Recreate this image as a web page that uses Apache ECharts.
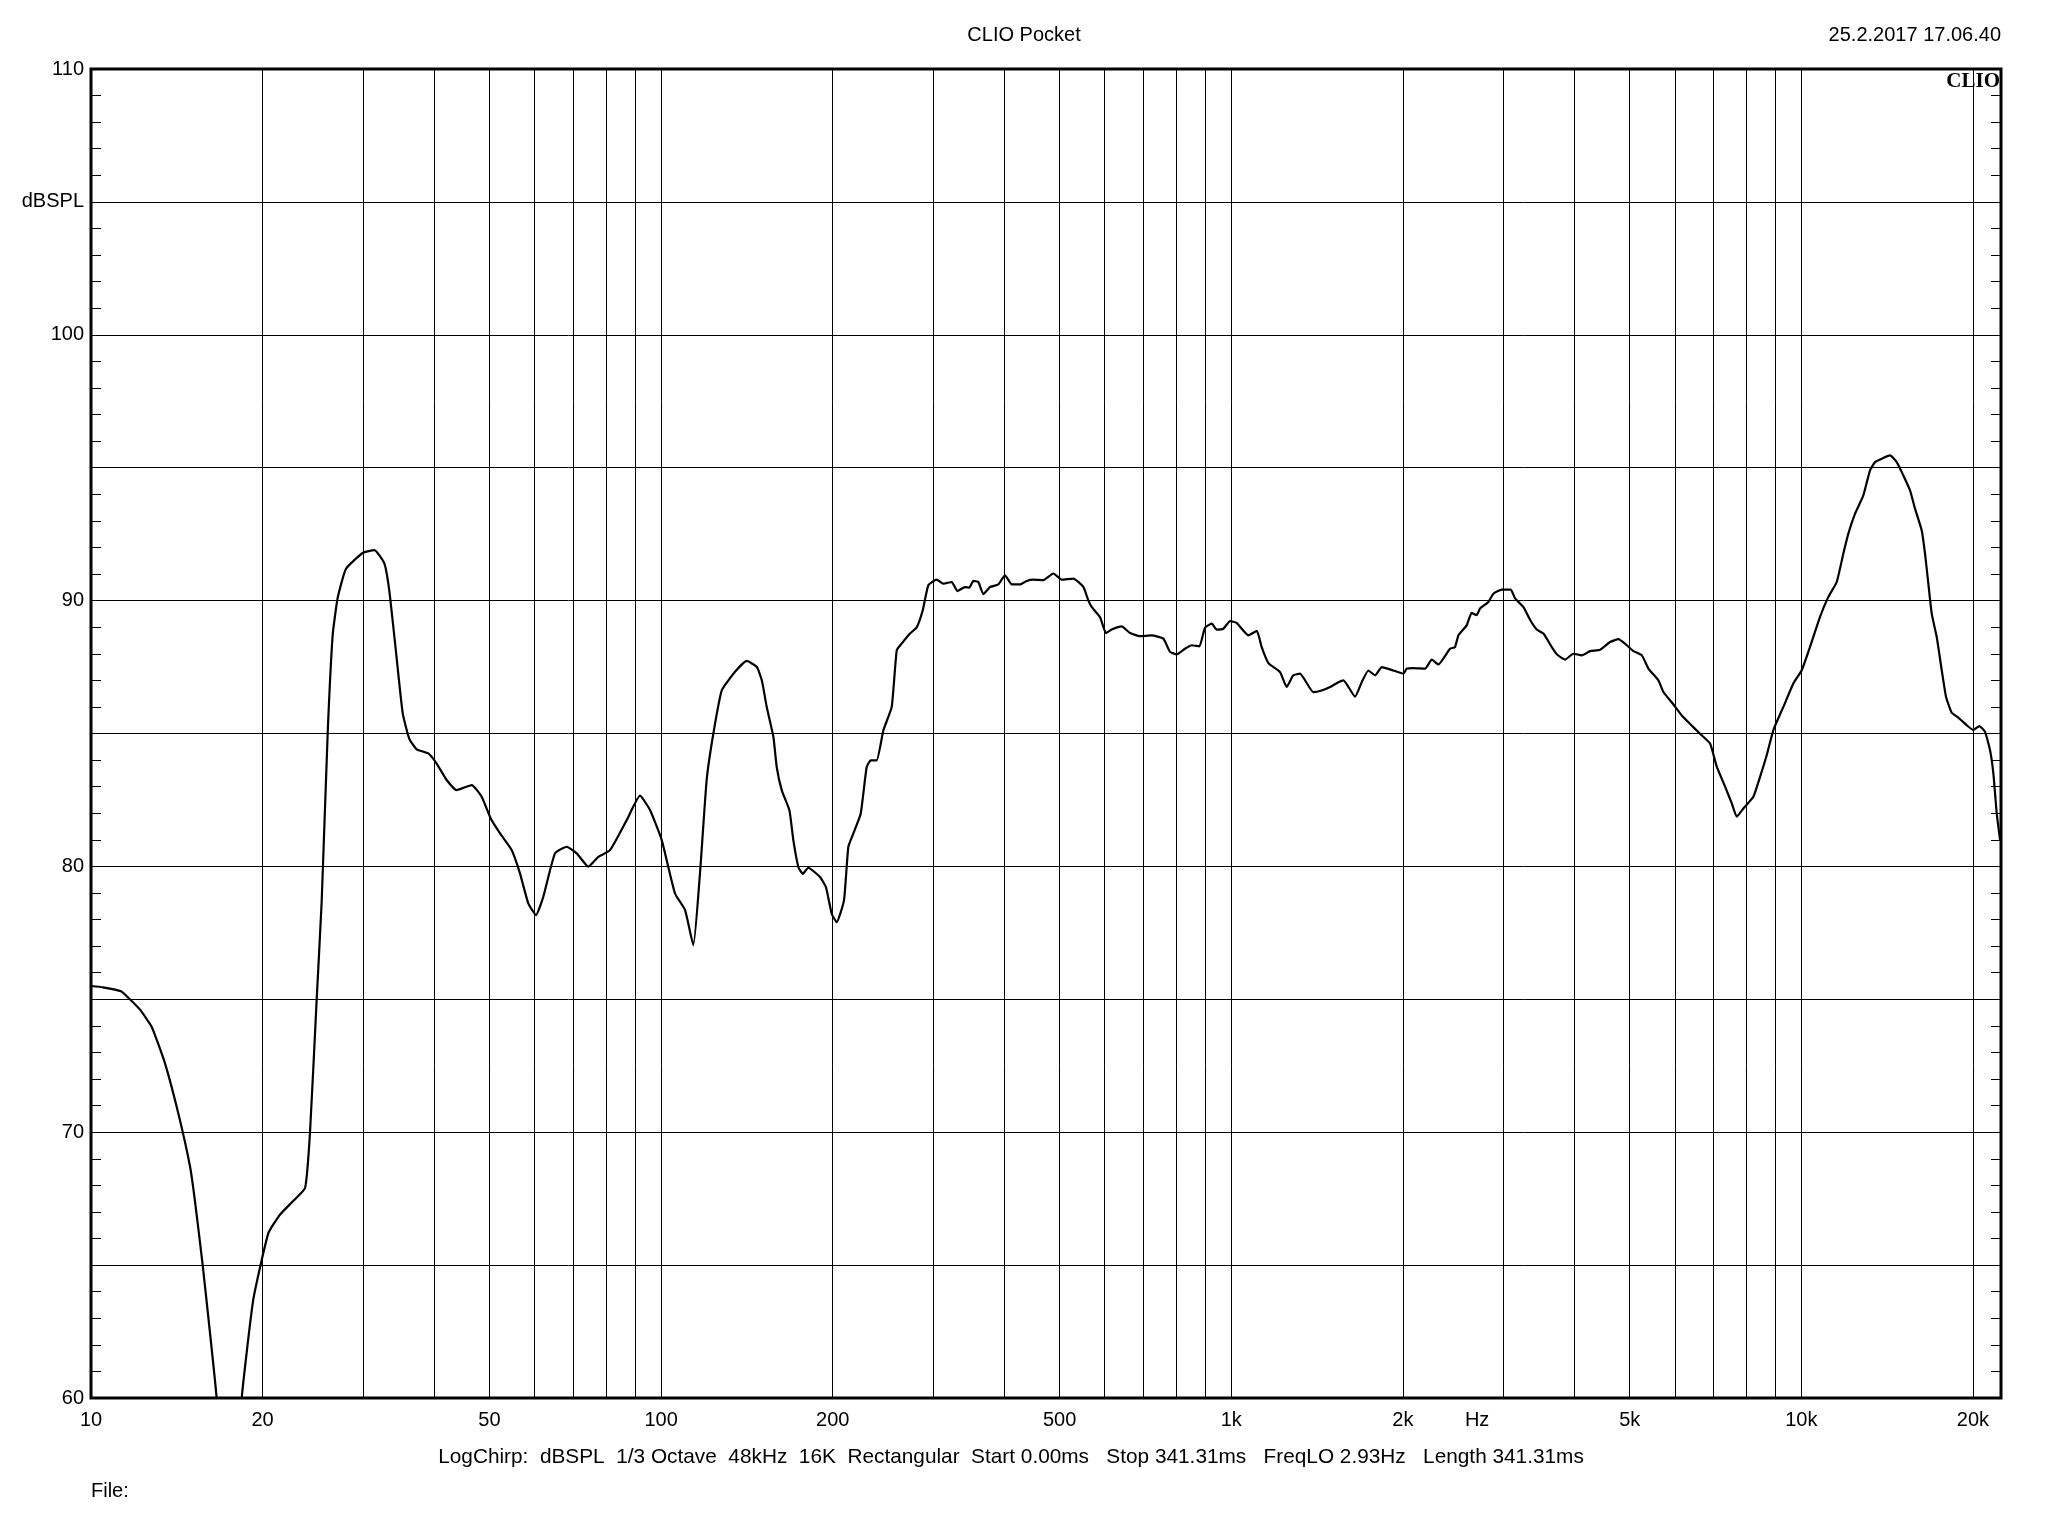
<!DOCTYPE html>
<html>
<head>
<meta charset="utf-8">
<script src="https://cdn.jsdelivr.net/npm/echarts@6/dist/echarts.min.js"></script>
<style>
html,body{margin:0;padding:0;background:#fff;}
#chart{width:2048px;height:1536px;}
</style>
</head>
<body>
<div id="chart"></div>
<script>
// ---- data ----
const freqHz = [
  10, 10.5, 11.29, 11.7, 12.2, 12.78, 13.48, 14.23, 14.92, 15.22, 15.7, 16.06, 16.61, 17.4, 18.38, 19.26,
  20.47, 21.46, 22.6, 23.74, 24.22, 24.88, 25.39, 26.01, 26.54, 27.08, 28.01, 30, 31.41, 32.7, 33.37,
  34.28, 35.22, 36.17, 37.28, 39.06, 40.39, 42.06, 43.79, 46.54, 48.45, 50.25, 52.18, 54.71, 56.55,
  58.48, 60.34, 62.14, 65.14, 68.3, 71.12, 74.53, 77.61, 81.36, 87.03, 91.84, 95.61, 100.25, 105.78,
  110.13, 113.9, 117, 120.2, 123.5, 127.8, 134.8, 141.3, 147.2, 150.2, 153.2, 157.4, 159.5, 162.8,
  167.9, 170.6, 174.1, 177.2, 181.2, 190, 194.6, 199.2, 203.2, 209.3, 213, 217.3, 223.9, 229.4, 233.2,
  238.8, 245.4, 253.8, 259, 264.2, 273.3, 280.8, 287.7, 294.3, 304.4, 312.6, 323.4, 330.8, 341.2,
  347.3, 352.9, 360.1, 367.5, 377.5, 390.4, 401.1, 412.1, 426.2, 437.8, 449.8, 468.3, 487.5, 504.2,
  528.5, 550.3, 561.5, 569.2, 588.6, 603.1, 617.1, 642.5, 664.5, 691.8, 725.2, 760.2, 781, 802.4,
  829.8, 852.5, 879.2, 899.5, 924.3, 943, 968.6, 995.2, 1022, 1072, 1109, 1131, 1162, 1218, 1251,
  1285, 1320, 1393, 1441, 1491, 1542, 1573, 1649, 1694, 1740, 1788, 1837, 1925, 2004, 2032, 2086,
  2188, 2248, 2309, 2420, 2469, 2503, 2588, 2641, 2695, 2732, 2825, 2883, 2982, 3093, 3147, 3254,
  3343, 3435, 3529, 3650, 3724, 3851, 3983, 4120, 4261, 4436, 4619, 4777, 4942, 5076, 5252, 5393,
  5615, 5730, 5967, 6171, 6382, 6643, 6917, 7107, 7350, 7551, 7705, 7913, 8239, 8465, 8697, 8932,
  9300, 9683, 10016, 10358, 10785, 11153, 11537, 11850, 12092, 12423, 12847, 13198, 13467, 13839,
  14310, 14701, 15099, 15513, 15827, 16262, 16481, 16703, 16932, 17278, 17632, 17940, 18357, 18855,
  19504, 20031, 20524, 21000, 21431, 21719, 22017, 22314
];
const splDb = [
  75.5, 75.45, 75.3, 75.0, 74.6, 73.96, 72.6, 70.7, 68.7, 67.4, 65.0, 63.05, 60.0, 53.0, 60.0, 63.7,
  66.2, 66.9, 67.4, 67.9, 70.0, 75.0, 78.7, 85.0, 88.7, 90.1, 91.2, 91.8, 91.9, 91.4, 90.35,
  88.06, 85.76, 84.8, 84.4, 84.25, 83.87, 83.25, 82.87, 83.06, 82.62, 81.8, 81.24, 80.61, 79.74,
  78.61, 78.17, 78.86, 80.49, 80.74, 80.49, 79.99, 80.36, 80.61, 81.74, 82.66, 82.12, 80.99, 78.98,
  78.36, 77.04, 79.74, 83.25, 85.0, 86.63, 87.32, 87.73, 87.5, 87.0, 86.0, 84.87, 83.74, 82.86,
  82.11, 80.98, 79.97, 79.72, 79.95, 79.6, 79.22, 78.22, 77.9, 78.72, 80.73, 81.23, 81.98, 83.74, 83.99,
  83.99, 85.12, 86.0, 88.13, 88.38, 88.76, 89.0, 89.64, 90.58, 90.79, 90.64, 90.7, 90.36, 90.51,
  90.49, 90.74, 90.7, 90.24, 90.51, 90.61, 90.95, 90.61, 90.61, 90.74, 90.79, 90.77, 91.02, 90.79,
  90.83, 90.52, 90.01, 89.76, 89.38, 88.78, 88.91, 89.03, 88.78, 88.66, 88.69, 88.57, 88.07, 87.98,
  88.19, 88.32, 88.28, 88.98, 89.13, 88.91, 88.94, 89.23, 89.16, 88.69, 88.86, 88.25, 87.65, 87.31, 86.75,
  87.19, 87.25, 86.56, 86.62, 86.75, 86.93, 87.0, 86.39, 86.93, 87.37, 87.19, 87.5, 87.37, 87.25, 87.44, 87.46,
  87.44, 87.78, 87.6, 88.19, 88.25, 88.69, 89.07, 89.54, 89.45, 89.7, 89.95, 90.26, 90.41, 90.41, 90.08, 89.76,
  89.28, 88.91, 88.76, 88.25, 87.98, 87.78, 88.0, 87.94, 88.1, 88.15, 88.44, 88.55, 88.32, 88.1, 87.94, 87.44,
  87.0, 86.56, 86.09, 85.68, 85.36, 84.99, 84.62, 83.75, 83.0, 82.37, 81.87, 82.18, 82.62, 83.37, 84.19, 85.13,
  86.0, 86.88, 87.38, 88.26, 89.39, 90.14, 90.7, 91.77, 92.52, 93.27, 93.96, 94.9, 95.21, 95.34,
  95.46, 95.21, 94.71, 94.15, 93.46, 92.64, 91.77, 90.64, 89.51, 88.63, 87.38, 86.38, 85.78, 85.6,
  85.31, 85.13, 85.28, 85.06, 84.37, 83.5, 81.99, 81.0
];
const gridFreqs = [10,20,30,40,50,60,70,80,90,100,200,300,400,500,600,700,800,900,
  1000,2000,3000,4000,5000,6000,7000,8000,9000,10000,20000];
const xLabelValues = [10,20,50,100,200,500,1000,2000,2700,5000,10000,20000];
const xLabelTexts  = ['10','20','50','100','200','500','1k','2k','Hz','5k','10k','20k'];
const yLabelValues = [60,70,80,90,100,105,110];
const yLabelTexts  = ['60','70','80','90','100','dBSPL','110'];
const titleText = 'CLIO Pocket';
const dateText = '25.2.2017 17.06.40';
const infoText = 'LogChirp:  dBSPL  1/3 Octave  48kHz  16K  Rectangular  Start 0.00ms   Stop 341.31ms   FreqLO 2.93Hz   Length 341.31ms';
const fileText = 'File:';
const logoText = 'CLIO';

const FONT = '"Liberation Sans", Arial, sans-serif';
const chart = echarts.init(document.getElementById('chart'), null, {renderer: 'canvas'});

const xFmt = v => {
  const i = xLabelValues.findIndex(t => Math.abs(t - v) < 1e-6 * t);
  return i >= 0 ? xLabelTexts[i] : '';
};
const yFmt = v => {
  const i = yLabelValues.indexOf(Math.round(v));
  return i >= 0 ? yLabelTexts[i] : '';
};

const option = {
  backgroundColor: '#fff',
  animation: false,
  grid: {left: 91, right: 47, top: 69, bottom: 138, show: true, borderColor: '#000', borderWidth: 3, backgroundColor: '#fff'},
  xAxis: [{
    type: 'log', logBase: 10, min: 10, max: 22400,
    axisLine: {show: false},
    axisTick: {show: false, customValues: gridFreqs},
    splitLine: {show: true, lineStyle: {color: '#000', width: 1}},
    axisLabel: {customValues: xLabelValues, formatter: xFmt, color: '#000', fontSize: 20, fontFamily: FONT, margin: 12, showMinLabel: true, showMaxLabel: true}
  }],
  yAxis: [{
    type: 'value', min: 60, max: 110, interval: 5, position: 'left',
    axisLine: {show: false},
    axisTick: {show: true, inside: true, length: 10, lineStyle: {color: '#000', width: 1}},
    minorTick: {show: true, splitNumber: 5, length: 10, lineStyle: {color: '#000', width: 1}},
    splitLine: {show: true, lineStyle: {color: '#000', width: 1}},
    axisLabel: {formatter: yFmt, color: '#000', fontSize: 20, fontFamily: FONT, margin: 7}
  }, {
    type: 'value', min: 60, max: 110, interval: 5, position: 'right',
    axisLine: {show: false},
    axisTick: {show: true, inside: true, length: 10, lineStyle: {color: '#000', width: 1}},
    minorTick: {show: true, splitNumber: 5, length: 10, lineStyle: {color: '#000', width: 1}},
    splitLine: {show: false},
    axisLabel: {show: false}
  }],
  series: [{
    type: 'line',
    data: freqHz.map((f, i) => [f, splDb[i]]),
    showSymbol: false,
    clip: true,
    smooth: 0.15,
    lineStyle: {color: '#000', width: 2.2},
    z: 5
  }],
  graphic: [
    {type: 'text', x: 1024, y: 35.5, style: {text: titleText, font: '20px ' + FONT, fill: '#000', textAlign: 'center', textVerticalAlign: 'middle'}},
    {type: 'text', x: 2001, y: 35.5, style: {text: dateText, font: '20px ' + FONT, fill: '#000', textAlign: 'right', textVerticalAlign: 'middle'}},
    {type: 'text', x: 1011, y: 1457.5, style: {text: infoText, font: '20.8px ' + FONT, fill: '#000', textAlign: 'center', textVerticalAlign: 'middle'}},
    {type: 'text', x: 91, y: 1491.5, style: {text: fileText, font: '20px ' + FONT, fill: '#000', textAlign: 'left', textVerticalAlign: 'middle'}},
    {type: 'text', x: 2000, y: 81.5, z: 10, style: {text: logoText, font: 'bold 21px "Liberation Serif", serif', fill: '#000', textAlign: 'right', textVerticalAlign: 'middle'}}
  ]
};
chart.setOption(option);
</script>
</body>
</html>
